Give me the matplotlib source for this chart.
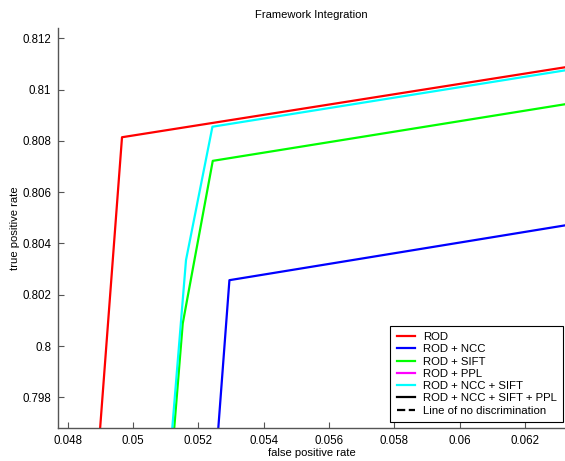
import numpy as np
import matplotlib.pyplot as plt

plt.rcParams['font.family'] = ['Liberation Sans', 'DejaVu Sans']

# ROC points read from the zoomed view (false positive rate, true positive rate)
rod_fpr = [0.04899, 0.04966, 0.0633]
rod_tpr = [0.79681, 0.80814, 0.81088]

ncc_fpr = [0.05261, 0.05295, 0.0633]
ncc_tpr = [0.79681, 0.80257, 0.80472]

sift_fpr = [0.05126, 0.05152, 0.05244, 0.0633]
sift_tpr = [0.79681, 0.80088, 0.80722, 0.80944]

ppl_fpr = []
ppl_tpr = []

ncc_sift_fpr = [0.05120, 0.05162, 0.05243, 0.0633]
ncc_sift_tpr = [0.79681, 0.80335, 0.80855, 0.81076]

all_fpr = []
all_tpr = []

chance = [0, 1]

fig = plt.figure(figsize=(5.65, 4.61), dpi=100)
ax = fig.add_axes([0.1027, 0.0716, 0.8973, 0.8684])

ax.plot(rod_fpr, rod_tpr, color=(1, 0, 0), lw=1.6, label='ROD')
ax.plot(ncc_fpr, ncc_tpr, color=(0, 0, 1), lw=1.6, label='ROD + NCC')
ax.plot(sift_fpr, sift_tpr, color=(0, 1, 0), lw=1.6, label='ROD + SIFT')
ax.plot(ppl_fpr, ppl_tpr, color=(1, 0, 1), lw=1.6, label='ROD + PPL')
ax.plot(ncc_sift_fpr, ncc_sift_tpr, color=(0, 1, 1), lw=1.6, label='ROD + NCC + SIFT')
ax.plot(all_fpr, all_tpr, color='k', lw=1.6, label='ROD + NCC + SIFT + PPL')
ax.plot(chance, chance, 'k--', lw=1.6, label='Line of no discrimination')

ax.set_xlim(0.0477, 0.06323)
ax.set_ylim(0.79681, 0.81241)
ax.set_xticks(np.arange(0.048, 0.0621, 0.002))
ax.set_xticklabels(['0.048', '0.05', '0.052', '0.054', '0.056', '0.058', '0.06', '0.062'])
ax.set_yticks(np.arange(0.798, 0.8121, 0.002))
ax.set_yticklabels(['0.798', '0.8', '0.802', '0.804', '0.806', '0.808', '0.81', '0.812'])

ax.spines['top'].set_visible(False)
ax.spines['right'].set_visible(False)
for s in ['left', 'bottom']:
    ax.spines[s].set_color('#555555')
    ax.spines[s].set_linewidth(1.0)
ax.tick_params(direction='in', length=4, color='#555555', labelsize=8.3, pad=5)

ax.set_xlabel('false positive rate', fontsize=8.1, labelpad=1)
ax.set_ylabel('true positive rate', fontsize=8.1, labelpad=1.5)
ax.set_title('Framework Integration', fontsize=8.1, pad=7)

leg = ax.legend(loc='lower right', bbox_to_anchor=(1 - 2 / 507, 6 / 400),
                fontsize=8.2, frameon=True, fancybox=False,
                edgecolor='k', framealpha=1, handlelength=1.6, handletextpad=0.7,
                labelspacing=0.2, borderpad=0.55, borderaxespad=0)
leg.get_frame().set_linewidth(0.8)

fig.savefig('out.png', dpi=100)
